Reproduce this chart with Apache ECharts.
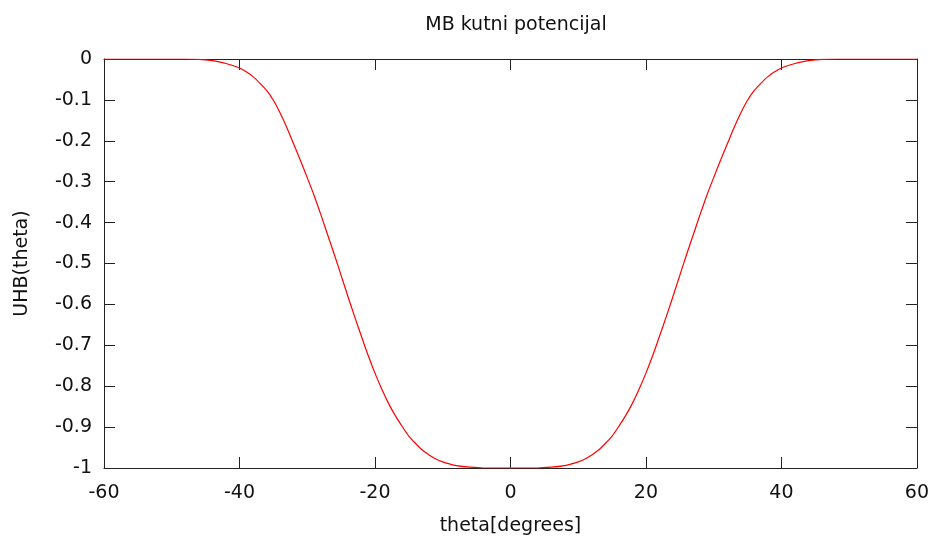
<!DOCTYPE html>
<html>
<head>
<meta charset="utf-8">
<script src="https://cdn.jsdelivr.net/npm/echarts@6/dist/echarts.min.js"></script>
<style>html,body{margin:0;padding:0;background:#fff;}#c{width:932px;height:542px;}</style>
</head>
<body>
<div id="c"></div>
<script>
var titleText = 'MB kutni potencijal';
var xName = 'theta[degrees]';
var yName = 'UHB(theta)';
var thetas = [-60,-56,-52,-50,-48,-46,-44,-43,-42,-41,-40,-39,-38,-37,-36,-35,-34,-33,-32,-31,-30,-29,-28,-27,-26,-25,-24,-23,-22,-21,-20,-19,-18,-17,-16,-15,-14,-13,-12,-11,-10,-9,-8,-6,-4,-2,0,
              2,4,6,8,9,10,11,12,13,14,15,16,17,18,19,20,21,22,23,24,25,26,27,28,29,30,31,32,33,34,35,36,37,38,39,40,41,42,43,44,46,48,50,52,56,60];
var uhb = [0,0,0,0,0,-0.001,-0.004,-0.007,-0.011,-0.016,-0.022,-0.031,-0.043,-0.059,-0.077,-0.101,-0.132,-0.168,-0.208,-0.248,-0.29,-0.333,-0.38,-0.429,-0.478,-0.529,-0.58,-0.63,-0.678,-0.725,-0.768,-0.807,-0.842,-0.872,-0.898,-0.922,-0.94,-0.956,-0.968,-0.978,-0.985,-0.99,-0.994,-0.998,-1,-1,-1,
           -1,-1,-0.998,-0.994,-0.99,-0.985,-0.978,-0.968,-0.956,-0.94,-0.922,-0.898,-0.872,-0.842,-0.807,-0.768,-0.725,-0.678,-0.63,-0.58,-0.529,-0.478,-0.429,-0.38,-0.333,-0.29,-0.248,-0.208,-0.168,-0.132,-0.101,-0.077,-0.059,-0.043,-0.031,-0.022,-0.016,-0.011,-0.007,-0.004,-0.001,0,0,0,0,0];

var font = 'DejaVu Sans';
var fs = 19;
var lineCol = '#222';
var pts = thetas.map(function(t,i){return [t, uhb[i]];});

var chart = echarts.init(document.getElementById('c'));
var axisCommon = {
  axisLine:{show:true, onZero:false, lineStyle:{color:lineCol, width:1}},
  axisTick:{show:true, inside:true, length:11, lineStyle:{color:lineCol, width:1}},
  splitLine:{show:false}
};
chart.setOption({
  animation:false,
  backgroundColor:'#fff',
  title:{text:titleText, left:511, top:11, textAlign:'center',
    textStyle:{fontFamily:font, fontSize:fs, fontWeight:'normal', color:'#111'}},
  grid:{left:104, right:15, top:59, bottom:74},
  xAxis:[
    Object.assign({type:'value', position:'bottom', min:-60, max:60, interval:20,
      name:xName, nameLocation:'middle', nameGap:49,
      nameTextStyle:{fontFamily:font, fontSize:fs, color:'#111'},
      axisLabel:{margin:16, fontFamily:font, fontSize:fs, color:'#111'}}, axisCommon),
    Object.assign({type:'value', position:'top', min:-60, max:60, interval:20,
      axisLabel:{show:false}}, axisCommon)
  ],
  yAxis:[
    Object.assign({type:'value', position:'left', min:-1, max:0, interval:0.1,
      name:yName, nameLocation:'middle', nameGap:72, nameRotate:90,
      nameTextStyle:{fontFamily:font, fontSize:fs, color:'#111'},
      axisLabel:{margin:12, fontFamily:font, fontSize:fs, color:'#111',
        formatter:function(v){ var r=Math.round(v*10)/10; return r===0?'0':String(r);} }}, axisCommon),
    Object.assign({type:'value', position:'right', min:-1, max:0, interval:0.1,
      axisLabel:{show:false}}, axisCommon)
  ],
  series:[{
    type:'line', data:pts, xAxisIndex:0, yAxisIndex:0,
    showSymbol:false, smooth:0.3,
    lineStyle:{color:'#ff0000', width:1.2}
  }]
});
</script>
</body>
</html>
